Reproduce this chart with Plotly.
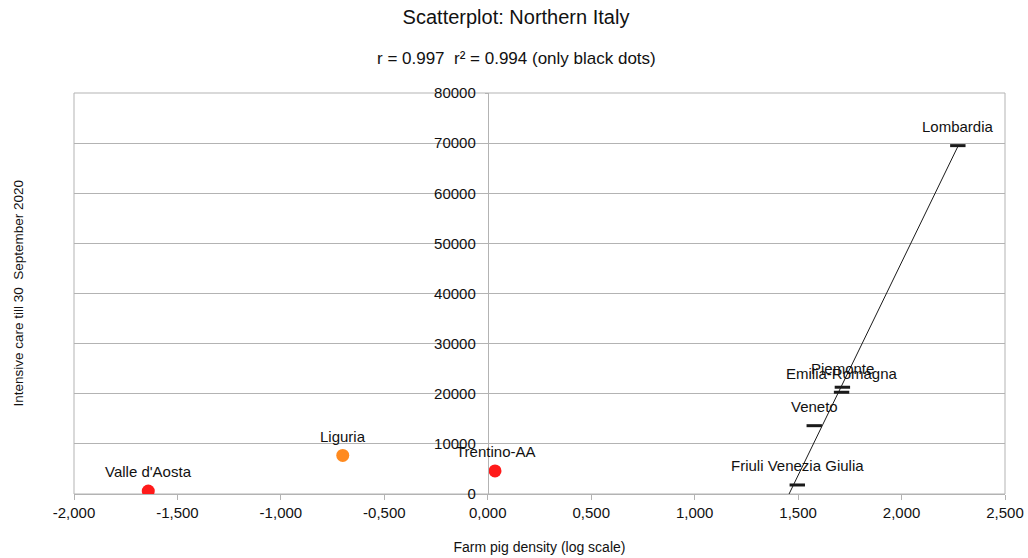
import numpy as np
import plotly.graph_objects as go

# Regions and their values (x: log10 farm pig density, y: intensive care cases)
fit_regions = ["Lombardia", "Piemonte", "Emilia-Romagna", "Veneto", "Friuli Venezia Giulia"]
fit_x = [2.272, 1.714, 1.710, 1.578, 1.496]
fit_y = [69500, 21300, 20300, 13630, 1800]

red_regions = ["Valle d'Aosta", "Trentino-AA"]
red_x = [-1.641, 0.035]
red_y = [600, 4600]

orange_regions = ["Liguria"]
orange_x = [-0.701]
orange_y = [7700]

x_ticks = [-2.0, -1.5, -1.0, -0.5, 0.0, 0.5, 1.0, 1.5, 2.0, 2.5]
x_tick_text = ["-2,000", "-1,500", "-1,000", "-0,500", "0,000", "0,500", "1,000", "1,500", "2,000", "2,500"]
y_ticks = [0, 10000, 20000, 30000, 40000, 50000, 60000, 70000, 80000]

FONT = "Liberation Sans, Arial, sans-serif"
GRID = "#b3b3b3"
INK = "#111111"

L, R, T, B = 74, 23, 93, 64
PW, PH = 1028 - L - R, 558 - T - B

fig = go.Figure()

# Linear regression over the black points
slope, intercept = np.polyfit(fit_x, fit_y, 1)
x_line = np.array([-intercept / slope - 0.05, max(fit_x)])
fig.add_trace(go.Scatter(
    x=x_line, y=slope * x_line + intercept, mode="lines",
    line=dict(color="#1a1a1a", width=1), hoverinfo="skip", showlegend=False,
))

fig.add_trace(go.Scatter(
    x=fit_x, y=fit_y, mode="markers", text=fit_regions,
    marker=dict(symbol="line-ew", size=11, line=dict(color="#1a1a1a", width=3)),
    showlegend=False,
))
fig.add_trace(go.Scatter(
    x=red_x, y=red_y, mode="markers", text=red_regions,
    marker=dict(symbol="circle", size=13, color="#ff1a1a"),
    showlegend=False,
))
fig.add_trace(go.Scatter(
    x=orange_x, y=orange_y, mode="markers", text=orange_regions,
    marker=dict(symbol="circle", size=13, color="#ff8a1f"),
    showlegend=False,
))

# Point labels placed above each marker
for names, xs, ys in [(fit_regions, fit_x, fit_y), (red_regions, red_x, red_y),
                      (orange_regions, orange_x, orange_y)]:
    for n, xv, yv in zip(names, xs, ys):
        fig.add_annotation(x=xv, y=yv, text=n, showarrow=False, yshift=19,
                           xanchor="center", yanchor="middle",
                           font=dict(family=FONT, size=15, color=INK))

# Plot frame
fig.add_shape(type="rect", xref="paper", yref="paper", x0=0, x1=1, y0=0, y1=1,
              line=dict(color=GRID, width=1), layer="below")

# Subtitle with the correlation figures
fig.add_annotation(text="r = 0.997  r² = 0.994 (only black dots)", xref="paper", yref="paper",
                   x=(516 - L) / PW, y=1 + (T - 59) / PH, showarrow=False,
                   xanchor="center", yanchor="middle",
                   font=dict(family=FONT, size=17, color=INK))

# Rotated y-axis title at the far left
fig.add_annotation(text="Intensive care till 30  September 2020", xref="paper", yref="paper",
                   x=(18 - L) / PW, y=0.5, textangle=-90, showarrow=False,
                   xanchor="center", yanchor="middle",
                   font=dict(family=FONT, size=13.5, color=INK))

fig.update_layout(
    width=1028, height=558,
    margin=dict(l=L, r=R, t=T, b=B, autoexpand=False),
    paper_bgcolor="white", plot_bgcolor="white",
    font=dict(family=FONT, size=15, color=INK),
    title=dict(text="Scatterplot: Northern Italy", x=516 / 1028, xanchor="center",
               y=1 - 17 / 558, yanchor="middle",
               font=dict(family=FONT, size=20, color=INK)),
    xaxis=dict(
        range=[-2.0, 2.5], tickvals=x_ticks, ticktext=x_tick_text,
        showgrid=False, zeroline=False, automargin=False,
        showline=True, linecolor=GRID, linewidth=1,
        ticks="outside", ticklen=5, tickcolor=GRID,
        tickfont=dict(family=FONT, size=15, color=INK),
        title=dict(text="Farm pig density (log scale)", standoff=22,
                   font=dict(family=FONT, size=14, color=INK)),
    ),
    yaxis=dict(
        range=[0, 80000], tickvals=y_ticks, ticktext=[str(v) for v in y_ticks],
        anchor="free", position=2.0 / 4.5, automargin=False,
        showgrid=True, gridcolor=GRID, gridwidth=1, zeroline=False,
        showline=True, linecolor=GRID, linewidth=1,
        ticks="outside", ticklen=3, tickcolor=GRID,
        ticklabelstandoff=6,
        tickfont=dict(family=FONT, size=15, color=INK),
    ),
)

fig.write_html("out.html")
